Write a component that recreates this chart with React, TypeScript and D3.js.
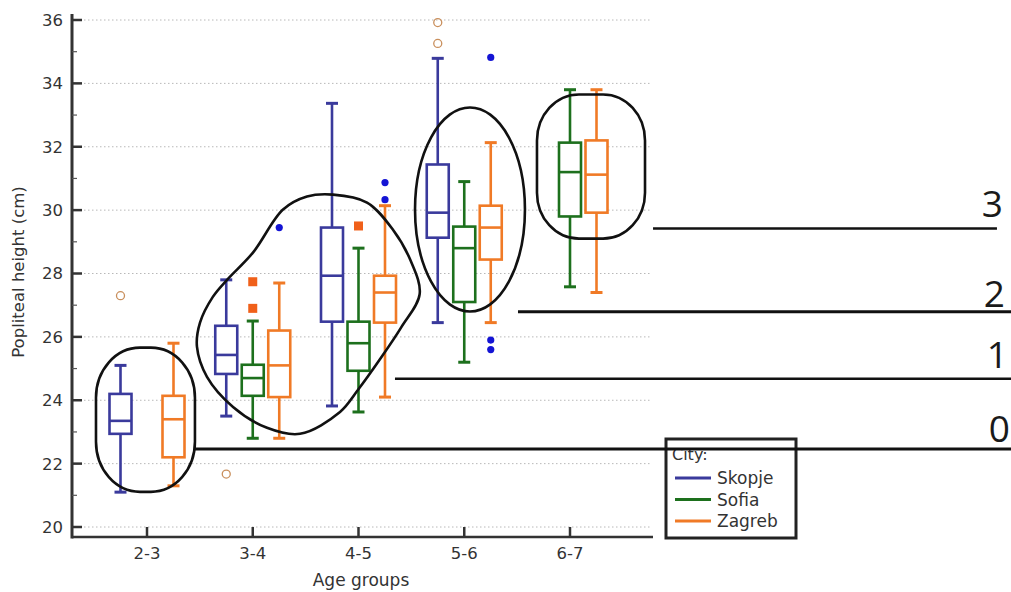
import React from "react";
import * as d3 from "d3";

// ---------- data ----------
const groups = ["2-3", "3-4", "4-5", "5-6", "6-7"];
const cities = ["Skopje", "Sofia", "Zagreb"];
const cityColors = ["#3a3a9c", "#1d701d", "#f07a26"];

// [whiskerLow, q1, median, q3, whiskerHigh] per age group (null = no data)
const skopjeStats: (number[] | null)[] = [
  [21.1, 22.94, 23.35, 24.2, 25.1],
  [23.5, 24.83, 25.43, 26.35, 27.8],
  [23.82, 26.48, 27.93, 29.45, 33.37],
  [26.45, 29.13, 29.92, 31.44, 34.79],
  null,
];
const sofiaStats: (number[] | null)[] = [
  null,
  [22.8, 24.14, 24.7, 25.12, 26.5],
  [23.63, 24.93, 25.8, 26.48, 28.8],
  [25.2, 27.1, 28.8, 29.48, 30.9],
  [27.58, 29.8, 31.2, 32.13, 33.8],
];
const zagrebStats: (number[] | null)[] = [
  [21.3, 22.2, 23.4, 24.14, 25.8],
  [22.8, 24.1, 25.1, 26.2, 27.7],
  [24.1, 26.45, 27.4, 27.93, 30.14],
  [26.45, 28.44, 29.45, 30.14, 32.13],
  [27.4, 29.92, 31.12, 32.2, 33.8],
];
const allStats = [skopjeStats, sofiaStats, zagrebStats];

// outliers
const circleGroups = ["2-3", "3-4", "5-6", "5-6"];
const circleCities = ["Skopje", "Skopje", "Skopje", "Skopje"];
const circleValues = [27.3, 21.67, 35.92, 35.26];

const squareGroups = ["3-4", "3-4", "4-5"];
const squareCities = ["Sofia", "Sofia", "Sofia"];
const squareValues = [27.74, 26.9, 29.5];

const dotGroups = ["3-4", "4-5", "4-5", "5-6", "5-6", "5-6"];
const dotCities = ["Zagreb", "Zagreb", "Zagreb", "Zagreb", "Zagreb", "Zagreb"];
const dotValues = [29.45, 30.87, 30.33, 34.82, 25.9, 25.6];

const yTicks = [20, 22, 24, 26, 28, 30, 32, 34, 36];

// annotation levels (in group-index units and cm)
const levelLabels = ["0", "1", "2", "3"];
const levelValues = [22.46, 24.68, 26.79, 29.42];
const levelStart = [0.445, 2.341, 3.507, 4.787];
const levelEnd = [8.3, 8.3, 8.3, 8.047];
const levelWidth = [3, 2.5, 3, 2.5];

// annotation outlines (group-index units, cm)
const blobG = [0.749, 0.995, 1.28, 1.507, 1.754, 2.076, 2.322, 2.49, 2.575, 2.4, 2.2, 1.991, 1.82, 1.441, 1.128, 0.806, 0.559, 0.464, 0.493, 0.616];
const blobV = [27.8, 28.66, 30.02, 30.43, 30.49, 30.24, 29.38, 28.4, 27.35, 26.3, 25.3, 24.33, 23.63, 22.94, 23.13, 23.79, 24.74, 25.69, 26.45, 27.27];
const rect1 = [-0.493, 0.445, 25.66, 21.11]; // g0, g1, vTop, vBottom
const rect2 = [3.687, 4.711, 33.65, 29.1];
const ellipse1 = [3.052, 30.02, 0.521, 3.22]; // cg, cv, rg, rv

// ---------- layout ----------
const W = 1011;
const H = 592;
const axisX = 72;
const axisY = 537;
const axisRight = 653;
const font = "DejaVu Sans, sans-serif";

export default function App() {
  const y = d3.scaleLinear().domain([20, 36]).range([527, 20]);
  const x = d3.scalePoint<string>().domain(groups).range([147, 570]);
  const sub = d3.scaleBand<string>().domain(cities).range([-39.75, 39.75]);
  const ax = d3.scaleLinear().domain([0, 4]).range([148, 570]);
  const boxW = 22;
  const capW = 12;

  const cx = (g: string, c: string) => (x(g) as number) + (sub(c) as number) + sub.bandwidth() / 2;

  const blobPts: [number, number][] = blobG.map((g, i) => [ax(g), y(blobV[i])]);
  const blobPath = d3.line().curve(d3.curveCatmullRomClosed.alpha(0.5))(blobPts) || "";

  const minorTicks = d3.range(21, 36, 2);

  const legendX = 666;
  const legendY = 439;

  return (
    <svg width={W} height={H} style={{ position: "absolute", left: 0, top: 0, background: "#fff" }}>
      <rect x={0} y={0} width={W} height={H} fill="#fff" />
      {/* grid */}
      {yTicks.map((t) => (
        <line key={"g" + t} x1={axisX + 8} x2={axisRight - 3} y1={y(t)} y2={y(t)} stroke="#b8b8b8" strokeWidth={1} strokeDasharray="1.5,2.5" />
      ))}

      {/* boxes */}
      {allStats.map((series, ci) =>
        series.map((s, gi) => {
          if (!s) return null;
          const c = cities[ci];
          const g = groups[gi];
          const xc = cx(g, c);
          const col = cityColors[ci];
          const [lo, q1, med, q3, hi] = s;
          return (
            <g key={c + g} stroke={col} strokeWidth={2.6} fill="none">
              <line x1={xc} x2={xc} y1={y(hi)} y2={y(q3)} />
              <line x1={xc} x2={xc} y1={y(q1)} y2={y(lo)} />
              <line x1={xc - capW / 2} x2={xc + capW / 2} y1={y(hi)} y2={y(hi)} strokeWidth={3} />
              <line x1={xc - capW / 2} x2={xc + capW / 2} y1={y(lo)} y2={y(lo)} strokeWidth={3} />
              <rect x={xc - boxW / 2} y={y(q3)} width={boxW} height={y(q1) - y(q3)} fill="#fff" />
              <line x1={xc - boxW / 2} x2={xc + boxW / 2} y1={y(med)} y2={y(med)} />
            </g>
          );
        })
      )}

      {/* outliers */}
      {circleValues.map((v, i) => (
        <circle key={"c" + i} cx={cx(circleGroups[i], circleCities[i])} cy={y(v)} r={4} fill="none" stroke="#c98f5c" strokeWidth={1.3} />
      ))}
      {squareValues.map((v, i) => (
        <rect key={"s" + i} x={cx(squareGroups[i], squareCities[i]) - 4.5} y={y(v) - 4.5} width={9} height={9} fill="#f0601a" />
      ))}
      {dotValues.map((v, i) => (
        <circle key={"d" + i} cx={cx(dotGroups[i], dotCities[i])} cy={y(v)} r={3.6} fill="#1414d4" />
      ))}

      {/* axes */}
      <line x1={axisX} x2={axisX} y1={14} y2={axisY + 1.5} stroke="#333" strokeWidth={3} />
      <line x1={axisX} x2={axisRight} y1={axisY} y2={axisY} stroke="#333" strokeWidth={2.5} />
      {yTicks.map((t) => (
        <g key={"yt" + t}>
          <line x1={axisX} x2={axisX + 10} y1={y(t)} y2={y(t)} stroke="#333" strokeWidth={2.5} />
          <text x={63} y={y(t)} dy="0.36em" textAnchor="end" fontFamily={font} fontSize={16.5} fill="#333">
            {t}
          </text>
        </g>
      ))}
      {minorTicks.map((t) => (
        <line key={"mt" + t} x1={axisX} x2={axisX + 5} y1={y(t)} y2={y(t)} stroke="#555" strokeWidth={1.2} />
      ))}
      {groups.map((g) => (
        <g key={"xt" + g}>
          <line x1={x(g) as number} x2={x(g) as number} y1={axisY} y2={axisY - 10} stroke="#333" strokeWidth={2.5} />
          <text x={x(g) as number} y={559} textAnchor="middle" fontFamily={font} fontSize={16.5} fill="#333">
            {g}
          </text>
        </g>
      ))}
      <text x={361} y={586} textAnchor="middle" fontFamily={font} fontSize={17} fill="#333">
        Age groups
      </text>
      <text transform={`translate(24,272) rotate(-90)`} textAnchor="middle" fontFamily={font} fontSize={16.5} fill="#333">
        Popliteal height (cm)
      </text>

      {/* legend */}
      <rect x={legendX} y={legendY} width={130} height={99} fill="#fff" stroke="#222" strokeWidth={3} />
      <text x={legendX + 6} y={legendY + 21} fontFamily={font} fontSize={16} fill="#333">
        City:
      </text>
      {cities.map((c, i) => (
        <g key={"lg" + c}>
          <line x1={legendX + 9} x2={legendX + 45} y1={legendY + 39 + i * 21.5} y2={legendY + 39 + i * 21.5} stroke={cityColors[i]} strokeWidth={3} />
          <text x={legendX + 51} y={legendY + 39 + i * 21.5} dy="0.36em" fontFamily={font} fontSize={17} fill="#333">
            {c}
          </text>
        </g>
      ))}

      {/* annotations */}
      <g fill="none" stroke="#111" strokeWidth={2.6}>
        <path d={blobPath} />
        <rect x={ax(rect1[0])} y={y(rect1[2])} width={ax(rect1[1]) - ax(rect1[0])} height={y(rect1[3]) - y(rect1[2])} rx={44} ry={50} />
        <rect x={ax(rect2[0])} y={y(rect2[2])} width={ax(rect2[1]) - ax(rect2[0])} height={y(rect2[3]) - y(rect2[2])} rx={42} ry={46} />
        <ellipse cx={ax(ellipse1[0])} cy={y(ellipse1[1])} rx={ax(ellipse1[2]) - ax(0)} ry={y(30.02 - ellipse1[3]) - y(30.02)} />
        {levelValues.map((v, i) => (
          <line key={"lv" + i} x1={ax(levelStart[i])} x2={ax(levelEnd[i])} y1={y(v)} y2={y(v)} strokeWidth={levelWidth[i]} />
        ))}
      </g>
      {levelLabels.map((l, i) => {
        const xs = [1010, 1008, 1005, 1003];
        const ys = [442, 368, 307, 217];
        return (
          <text key={"ll" + l} x={xs[i]} y={ys[i]} textAnchor="end" fontFamily="Open Sans, sans-serif" fontSize={37} fill="#1a1a1a">
            {l}
          </text>
        );
      })}
    </svg>
  );
}
